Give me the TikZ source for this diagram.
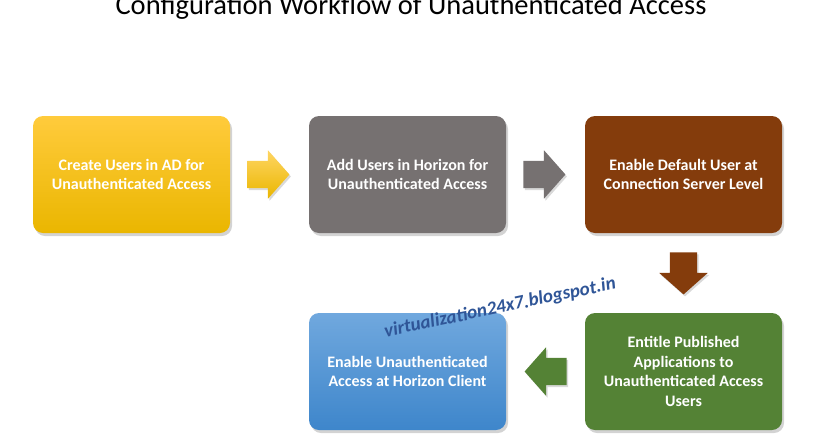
\documentclass[tikz,border=0pt]{standalone}
\usepackage{fontspec}
\setmainfont{Carlito}
\definecolor{wfGoldTop}{RGB}{255,203,60}
\definecolor{wfGoldBot}{RGB}{234,182,0}
\definecolor{wfGray}{RGB}{118,113,113}
\definecolor{wfBrown}{RGB}{132,60,12}
\definecolor{wfGreen}{RGB}{84,130,53}
\definecolor{wfBlueTop}{RGB}{112,168,222}
\definecolor{wfBlueBot}{RGB}{62,134,203}
\definecolor{wfMark}{RGB}{47,85,151}
\usetikzlibrary{positioning,calc,shapes.arrows,shadows}

\begin{document}
\begin{tikzpicture}[x=1pt, y=-1pt,
    stepbox/.style={rectangle, rounded corners=10pt, draw=none,
                    minimum width=197pt, minimum height=117pt,
                    align=center, text=white, font=\fontsize{16}{19.5}\selectfont\bfseries,
                    drop shadow={opacity=0.35, shadow xshift=2pt, shadow yshift=-3pt}},
    blockarr/.style={single arrow, draw=none, inner xsep=0pt, inner ysep=13.5pt,
                     minimum height=42pt, minimum width=48pt, anchor=tail,
                     single arrow head extend=10.5pt, single arrow tip angle=97,
                     drop shadow={opacity=0.3, shadow xshift=1.5pt, shadow yshift=-2pt}}
  ]
  \useasboundingbox (0,0) rectangle (826,434);

  \node[font=\fontsize{28.5}{32}\selectfont, anchor=base] (title) at (411,14)
    {Configuration Workflow of Unauthenticated Access};

  \node[stepbox, top color=wfGoldTop, bottom color=wfGoldBot] (create) at (131.5,174.5)
    {Create Users in AD for\\Unauthenticated Access};
  \node[stepbox, fill=wfGray] (add) at (407.5,174.5)
    {Add Users in Horizon for\\Unauthenticated Access};
  \node[stepbox, fill=wfBrown] (default) at (683.5,174.5)
    {Enable Default User at\\Connection Server Level};
  \node[stepbox, fill=wfGreen] (entitle) at (683.5,371.5)
    {Entitle Published\\Applications to\\Unauthenticated Access\\Users};
  \node[stepbox, top color=wfBlueTop, bottom color=wfBlueBot] (client) at (407.5,371.5)
    {Enable Unauthenticated\\Access at Horizon Client};

  % block arrows between the steps
  \node[blockarr, top color=wfGoldTop!80!white, bottom color=wfGoldBot]
    (a1) at ($(create.east)+(17,0)$) {};
  \node[blockarr, fill=wfGray] (a2) at ($(add.east)+(17,0)$) {};
  \node[blockarr, fill=wfBrown, shape border rotate=270, inner xsep=13.5pt, inner ysep=0pt]
    (a3) at ($(default.south)+(0,19)$) {};
  \node[blockarr, fill=wfGreen, shape border rotate=180]
    (a4) at ($(entitle.west)+(-18,0)$) {};

  \node[text=wfMark, font=\fontsize{19}{22}\selectfont\bfseries\itshape,
        rotate=11.8] (mark) at (500,308) {virtualization24x7.blogspot.in};
\end{tikzpicture}
\end{document}
